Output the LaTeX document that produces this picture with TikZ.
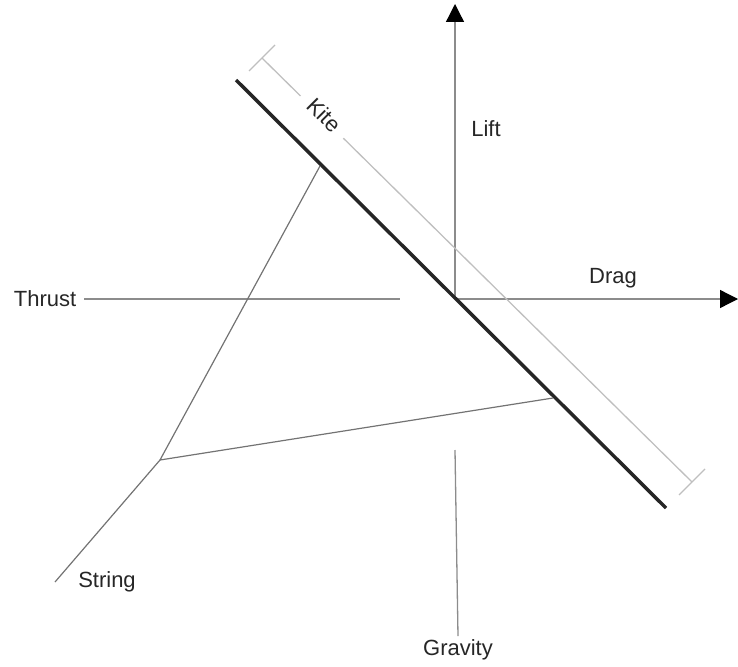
\documentclass[tikz,border=0pt]{standalone}
\usepackage{fontspec}
\setmainfont{Liberation Sans}
\usetikzlibrary{arrows.meta,calc}

\begin{document}
\begin{tikzpicture}[
  x=1pt, y=-1pt,
  axis/.style={draw=black!45, line width=1.3pt},
  force/.style={axis, -{Triangle[length=18pt,width=18pt,color=black]}},
  lbl/.style={font=\fontsize{22}{26}\selectfont, text=black!85},
  kiteline/.style={draw=black!85, line width=3.5pt},
  dimline/.style={draw=black!25, line width=1.3pt},
  stringline/.style={draw=black!55, line width=1.2pt}
]
\useasboundingbox (0,0) rectangle (738,666);
% axes
\coordinate (o) at (455,299);
\coordinate (lifttip) at (455,4);
\coordinate (dragtip) at (738,299);
\coordinate (thrustend) at (400,299);
\coordinate (gravtop) at (455,450);
\node[lbl] (lift) at (486,129) {Lift};
\node[lbl] (drag) at (613,278) {Drag};
\node[lbl, inner sep=8pt] (thrust) at (45,299) {Thrust};
\node[lbl] (gravity) at (458,650) {Gravity};
\draw[force] (o) -- (lifttip);
\draw[force] (o) -- (dragtip);
\draw[axis] (thrust.east) -- (thrustend);
\draw[axis] (gravtop) -- (gravity.north);
% kite and its length
\coordinate (kitetop) at (236,80);
\coordinate (kitebot) at (666,508);
\coordinate (dimA) at (262,58);
\coordinate (dimB) at (692,482);
\draw[dimline] (dimA) -- (dimB);
\draw[dimline] ($(dimA)+(-13,13)$) -- ($(dimA)+(13,-13)$);
\draw[dimline] ($(dimB)+(-13,13)$) -- ($(dimB)+(13,-13)$);
\node[lbl, fill=white, rotate=-45, inner xsep=11pt, inner ysep=2pt] (kite) at (324,115) {Kite};
\draw[kiteline] (kitetop) -- (kitebot);
% string and bridle
\coordinate (strend) at (55,582);
\coordinate (knot) at (160,460);
\coordinate (bridleA) at (320,166);
\coordinate (bridleB) at (553,398);
\node[lbl] (string) at (107,582) {String};
\draw[stringline] (strend) -- (knot) -- (bridleA);
\draw[stringline] (knot) -- (bridleB);
\end{tikzpicture}
\end{document}
